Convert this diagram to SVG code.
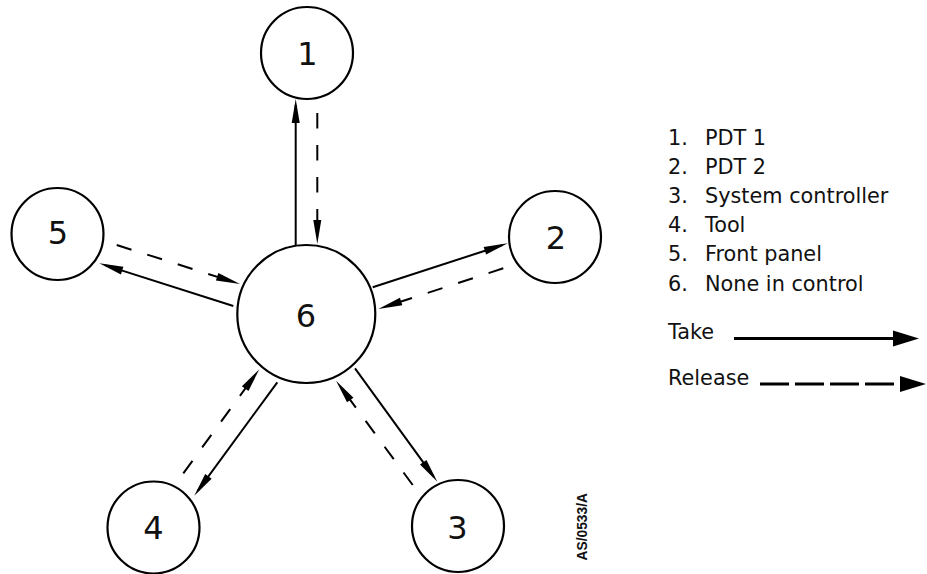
<svg xmlns="http://www.w3.org/2000/svg" width="927" height="574" viewBox="0 0 927 574">
<style>
.node circle{fill:#fff;stroke:#000;stroke-width:2.2}
.num{font-family:"DejaVu Sans","Liberation Sans",sans-serif;font-size:32px;text-anchor:middle;fill:#111}
.conn line{stroke:#000;stroke-width:2;fill:none;marker-end:url(#ah)}
.conn line.rel{stroke-dasharray:15.5 16.5}
.leg{font-family:"DejaVu Sans","Liberation Sans",sans-serif;font-size:20.8px;fill:#111}
.legline{stroke:#000;stroke-width:3;fill:none;marker-end:url(#lah)}
.legline.rel{stroke-dasharray:29 6}
.ref{font-family:"Liberation Sans",Arial,sans-serif;font-size:13.8px;font-weight:bold;fill:#111}
</style>
<defs>
<marker id="ah" markerUnits="userSpaceOnUse" orient="auto" refX="0" refY="0" markerWidth="30" markerHeight="10" overflow="visible">
<path d="M6,0 L-18,-4 L-18,4 Z" fill="#000"/>
</marker>
<marker id="lah" markerUnits="userSpaceOnUse" orient="auto" refX="0" refY="0" markerWidth="30" markerHeight="20" overflow="visible">
<path d="M6,0 L-20,-8 L-20,8 Z" fill="#000"/>
</marker>
</defs>
<g id="connectors" class="conn">
<line x1="295.7" y1="246" x2="295.7" y2="105"/>
<line class="rel" x1="317.3" y1="113" x2="317.3" y2="238"/>
<line class="rel" x1="116.7" y1="245" x2="234.3" y2="282.2"/>
<line x1="233.3" y1="306" x2="105" y2="265.1"/>
<line x1="372.7" y1="287.3" x2="502" y2="245.2"/>
<line class="rel" x1="503.3" y1="268.3" x2="384" y2="307.1"/>
<line class="rel" x1="183.3" y1="473.3" x2="255.8" y2="374.1"/>
<line x1="277.3" y1="382.3" x2="197.8" y2="490.9"/>
<line x1="355" y1="368.3" x2="433.8" y2="476.8"/>
<line class="rel" x1="412.7" y1="485" x2="339.6" y2="385.5"/>
</g>
<g id="node1" class="node"><circle cx="307" cy="53" r="46"/><text class="num" x="307.5" y="64.5">1</text></g>
<g id="node2" class="node"><circle cx="555" cy="237" r="46"/><text class="num" x="556" y="249">2</text></g>
<g id="node3" class="node"><circle cx="458" cy="526" r="46"/><text class="num" x="457.5" y="539">3</text></g>
<g id="node4" class="node"><circle cx="153.5" cy="527.5" r="46"/><text class="num" x="153.5" y="539">4</text></g>
<g id="node5" class="node"><circle cx="57.5" cy="234" r="46"/><text class="num" x="58" y="244">5</text></g>
<g id="node6" class="node"><circle cx="306.3" cy="314" r="69"/><text class="num" x="306" y="327">6</text></g>
<g id="legend">
<text class="leg" y="145"><tspan x="668">1.</tspan><tspan x="705">PDT 1</tspan></text>
<text class="leg" y="174"><tspan x="668">2.</tspan><tspan x="705">PDT 2</tspan></text>
<text class="leg" y="203"><tspan x="668">3.</tspan><tspan x="705">System controller</tspan></text>
<text class="leg" y="232"><tspan x="668">4.</tspan><tspan x="705">Tool</tspan></text>
<text class="leg" y="261"><tspan x="668">5.</tspan><tspan x="705">Front panel</tspan></text>
<text class="leg" y="291"><tspan x="668">6.</tspan><tspan x="705">None in control</tspan></text>
<text class="leg" x="668" y="339">Take</text>
<line class="legline" x1="734" y1="338.5" x2="913" y2="338.5"/>
<text class="leg" x="668" y="385">Release</text>
<line class="legline rel" x1="760" y1="384" x2="920" y2="384"/>
</g>
<text class="ref" transform="translate(586.5,560.5) rotate(-90)">AS/0533/A</text>
</svg>
